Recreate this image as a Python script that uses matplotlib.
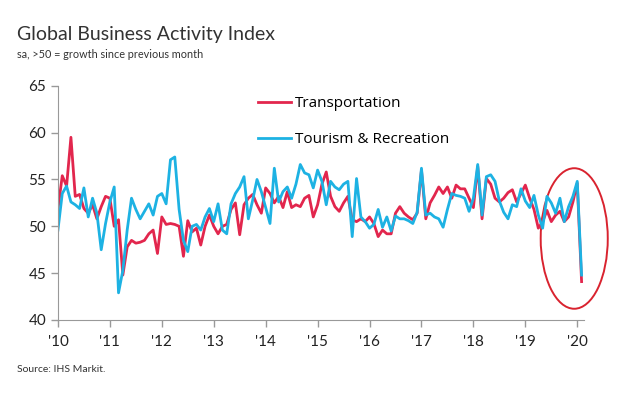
import matplotlib.pyplot as plt
import numpy as np
from matplotlib.patches import Ellipse

#monthly index values, Jan 2010 - Feb 2020
transport = [51.8, 55.4, 54.3, 59.5, 53.2, 53.4, 51.9, 51.4, 52.3, 50.8, 52.1, 53.2,
             53.0, 50.0, 50.7, 44.8, 47.8, 48.5, 48.2, 48.3, 48.5, 49.2, 49.6, 47.1,
             51.0, 50.2, 50.3, 50.2, 50.0, 46.8, 50.6, 49.4, 49.8, 48.0, 50.0, 51.2,
             50.0, 49.2, 50.0, 50.2, 51.8, 52.5, 49.1, 52.3, 53.0, 53.4, 52.3, 51.4,
             54.1, 53.5, 52.5, 53.2, 52.0, 53.7, 52.0, 52.3, 52.1, 53.0, 53.3, 51.0,
             52.3, 54.5, 55.8, 53.2, 52.1, 51.6, 52.5, 53.2, 50.7, 50.5, 50.8, 50.5,
             51.0, 50.3, 48.9, 49.6, 49.2, 49.2, 51.4, 52.1, 51.4, 51.0, 50.7, 51.4,
             56.0, 50.8, 52.5, 53.3, 54.2, 53.5, 54.2, 53.0, 54.4, 54.0, 54.0, 53.0,
             52.0, 56.4, 50.8, 55.1, 54.5, 53.0, 52.6, 53.0, 53.6, 53.9, 52.6, 53.5,
             54.4, 53.0, 51.8, 49.8, 50.5, 51.7, 50.5, 51.2, 51.6, 50.5, 51.0, 52.6,
             54.6, 44.1]
tourism = [49.6, 53.5, 54.3, 52.6, 52.3, 51.9, 54.1, 51.0, 53.0, 51.4, 47.5, 50.3,
           52.6, 54.2, 42.9, 45.3, 49.6, 53.0, 51.8, 50.8, 51.6, 52.4, 51.2, 53.2,
           53.5, 52.4, 57.1, 57.4, 51.8, 48.5, 47.3, 50.0, 50.2, 49.6, 51.0, 51.9,
           50.5, 52.4, 49.6, 49.2, 52.4, 53.5, 54.2, 55.3, 50.8, 52.8, 55.0, 53.7,
           52.0, 50.3, 56.2, 52.6, 53.7, 54.2, 53.0, 54.5, 56.6, 55.7, 55.5, 54.1,
           56.0, 54.8, 52.3, 54.8, 54.2, 53.9, 54.5, 54.8, 48.9, 55.1, 51.0, 50.5,
           49.8, 50.2, 51.8, 49.9, 51.0, 49.5, 51.1, 50.8, 50.8, 50.6, 50.3, 51.5,
           56.2, 51.2, 51.4, 51.0, 50.8, 49.9, 51.8, 53.5, 53.3, 53.2, 53.0, 51.6,
           53.0, 56.6, 51.2, 55.3, 55.5, 54.8, 52.7, 51.5, 50.8, 52.3, 52.1, 54.0,
           52.7, 52.0, 53.3, 51.2, 49.8, 53.2, 52.5, 51.4, 53.0, 50.5, 52.1, 53.2,
           54.8, 44.8]
years = ["'10", "'11", "'12", "'13", "'14", "'15", "'16", "'17", "'18", "'19", "'20"]
yticks = [40, 45, 50, 55, 60, 65]

red = '#e2264d'
blue = '#1db2e3'
txt = '#333333'
plt.rcParams['font.family'] = ['Lato', 'DejaVu Sans']

#setting up plot
fig = plt.figure(figsize=(6.23, 3.99), dpi=100)
ax = fig.add_axes([0.093, 0.198, 0.844, 0.587])

x = np.arange(len(transport))
ax.plot(x, transport, color=red, lw=2.0, label='Transportation')
ax.plot(x, tourism, color=blue, lw=2.0, label='Tourism & Recreation')

#highlight the last months
ax.add_patch(Ellipse((119.3, 48.7), 15.5, 15.0, fill=False, ec='#d9232f', lw=1.4, clip_on=False))

ax.set_xlim(0, 121.5)
ax.set_ylim(40, 65)
ax.set_xticks(np.arange(len(years)) * 12)
ax.set_xticklabels(years)
ax.set_yticks(yticks)
for s in ['top', 'right']:
    ax.spines[s].set_visible(False)
for s in ['left', 'bottom']:
    ax.spines[s].set_color('#999999')
ax.tick_params(colors='#999999', labelcolor='#222222', labelsize=11, length=5, width=1)
ax.tick_params(axis='x', pad=6)

ax.legend(frameon=False, loc='upper left', bbox_to_anchor=(0.38, 0.955), borderaxespad=0,
          borderpad=0, handlelength=2.2, handletextpad=0.25, labelspacing=1.35,
          prop={'family': ['Open Sans', 'DejaVu Sans'], 'size': 11})

#titles
fig.text(0.027, 0.901, 'Global Business Activity Index', fontsize=14, color=txt, va='baseline')
fig.text(0.027, 0.854, 'sa, >50 = growth since previous month', fontsize=7.8, color=txt, va='baseline')
fig.text(0.027, 0.068, 'Source: IHS Markit.', fontsize=7.5, color=txt, va='baseline')

plt.savefig('out.png', dpi=100)
